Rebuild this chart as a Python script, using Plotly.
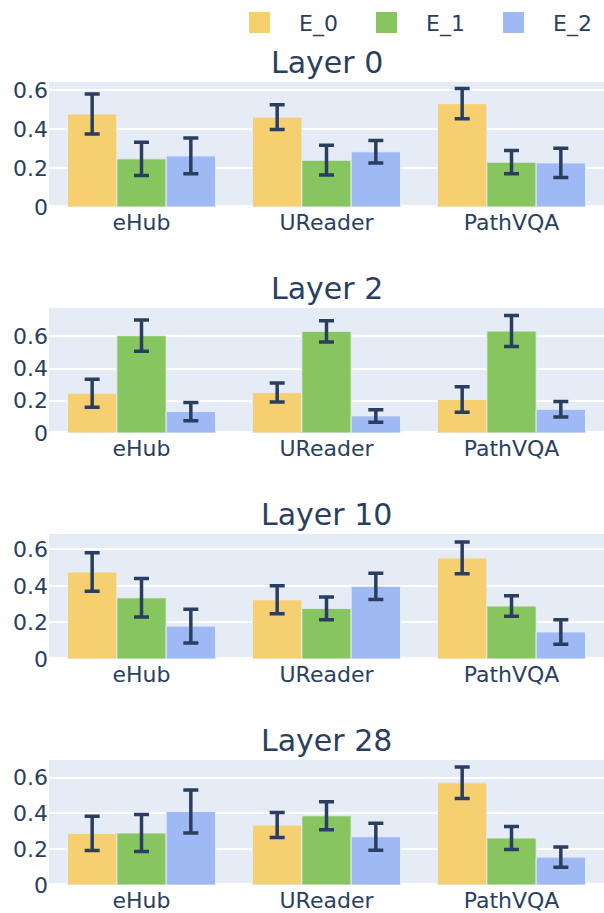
import plotly.graph_objects as go
from plotly.subplots import make_subplots

categories = ["eHub", "UReader", "PathVQA"]
series_names = ["E_0", "E_1", "E_2"]
layer_titles = ["Layer 0", "Layer 2", "Layer 10", "Layer 28"]

# values[series] -> per category, one block per layer
layer0_vals = [[0.477, 0.461, 0.530], [0.247, 0.240, 0.230], [0.262, 0.283, 0.226]]
layer0_errs = [[0.103, 0.063, 0.078], [0.085, 0.076, 0.060], [0.092, 0.058, 0.075]]
layer2_vals = [[0.247, 0.251, 0.208], [0.604, 0.631, 0.633], [0.133, 0.106, 0.147]]
layer2_errs = [[0.087, 0.059, 0.079], [0.097, 0.066, 0.096], [0.057, 0.039, 0.048]]
layer10_vals = [[0.476, 0.324, 0.553], [0.335, 0.277, 0.290], [0.180, 0.397, 0.148]]
layer10_errs = [[0.105, 0.077, 0.087], [0.105, 0.062, 0.056], [0.092, 0.072, 0.067]]
layer28_vals = [[0.289, 0.335, 0.572], [0.291, 0.387, 0.263], [0.411, 0.270, 0.156]]
layer28_errs = [[0.096, 0.070, 0.088], [0.103, 0.078, 0.064], [0.120, 0.075, 0.057]]

y_max = [0.641, 0.776, 0.684, 0.699]

colors = ["rgb(246, 207, 113)", "rgb(135, 197, 95)", "rgb(158, 185, 243)"]
FONT = "DejaVu Sans"
TXT = "#2a3f5f"

all_vals = [layer0_vals, layer2_vals, layer10_vals, layer28_vals]
all_errs = [layer0_errs, layer2_errs, layer10_errs, layer28_errs]

fig = make_subplots(rows=4, cols=1, subplot_titles=layer_titles,
                    vertical_spacing=0.1258)

for r in range(4):
    for s in range(3):
        fig.add_trace(go.Bar(
            x=categories, y=all_vals[r][s], name=series_names[s],
            marker=dict(color=colors[s], line=dict(color="#E5ECF6", width=1)),
            error_y=dict(type="data", array=all_errs[r][s], color=TXT,
                         thickness=3.5, width=7.5),
            showlegend=False, legendgroup=series_names[s],
        ), row=r + 1, col=1)
    fig.update_yaxes(range=[0, y_max[r]], dtick=0.2, row=r + 1, col=1)

# legend entries (larger square swatches)
for s in range(3):
    fig.add_trace(go.Scatter(
        x=[None], y=[None], mode="markers", name=series_names[s],
        legendgroup=series_names[s], showlegend=True,
        marker=dict(symbol="square", size=16, color=colors[s],
                    line=dict(color=colors[s], width=5)),
    ), row=1, col=1)

fig.update_xaxes(tickfont=dict(size=22, family=FONT, color=TXT),
                 showgrid=False)
fig.update_yaxes(tickfont=dict(size=22, family=FONT, color=TXT),
                 gridcolor="white", gridwidth=2,
                 zerolinecolor="white", zerolinewidth=3.5)

for ann in fig.layout.annotations:
    ann.font = dict(size=30, family=FONT, color=TXT)

fig.update_layout(
    width=604, height=913,
    margin=dict(l=49, r=0, t=82, b=28, autoexpand=False),
    template="plotly",
    plot_bgcolor="#E5ECF6",
    paper_bgcolor="white",
    font=dict(family=FONT, size=22, color=TXT),
    barmode="group", bargap=0.2, bargroupgap=0,
    legend=dict(orientation="h", x=0.9946, xanchor="right", y=1.074,
                yanchor="middle", font=dict(size=22, family=FONT, color=TXT),
                itemwidth=69, entrywidth=43, entrywidthmode="pixels"),
)

fig.write_html(
    "out.html",
    config={"displayModeBar": False},
    post_script="document.body.style.margin='0';document.body.style.overflow='hidden';",
)
